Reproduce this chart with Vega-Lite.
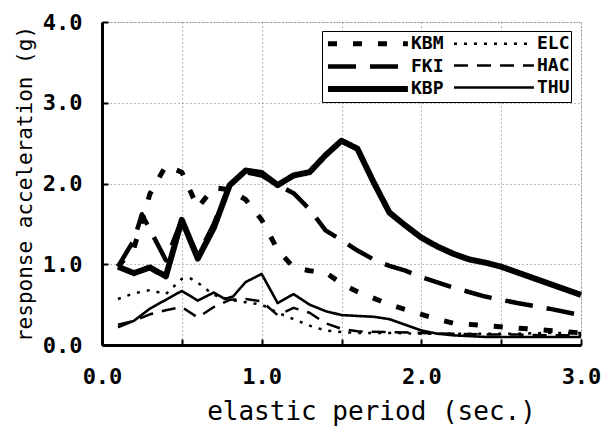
{
  "$schema": "https://vega.github.io/schema/vega-lite/v6.json",
  "width": 479,
  "height": 323,
  "autosize": {"type": "none"},
  "padding": {"left": 102, "top": 22, "right": 21, "bottom": 82},
  "background": "white",
  "data": {
    "values": [
      {"station": "KBM", "period": 0.1, "accel": 0.97},
      {"station": "KBM", "period": 0.2, "accel": 1.2},
      {"station": "KBM", "period": 0.3, "accel": 1.87},
      {"station": "KBM", "period": 0.4, "accel": 2.22},
      {"station": "KBM", "period": 0.5, "accel": 2.14},
      {"station": "KBM", "period": 0.6, "accel": 1.7},
      {"station": "KBM", "period": 0.7, "accel": 1.95},
      {"station": "KBM", "period": 0.8, "accel": 1.92},
      {"station": "KBM", "period": 0.9, "accel": 1.8},
      {"station": "KBM", "period": 1.0, "accel": 1.55},
      {"station": "KBM", "period": 1.1, "accel": 1.18},
      {"station": "KBM", "period": 1.2, "accel": 0.96},
      {"station": "KBM", "period": 1.3, "accel": 0.92},
      {"station": "KBM", "period": 1.4, "accel": 0.9},
      {"station": "KBM", "period": 1.5, "accel": 0.76},
      {"station": "KBM", "period": 1.6, "accel": 0.66},
      {"station": "KBM", "period": 1.7, "accel": 0.58},
      {"station": "KBM", "period": 1.8, "accel": 0.5},
      {"station": "KBM", "period": 1.9, "accel": 0.44},
      {"station": "KBM", "period": 2.0, "accel": 0.38},
      {"station": "KBM", "period": 2.1, "accel": 0.32},
      {"station": "KBM", "period": 2.2, "accel": 0.27},
      {"station": "KBM", "period": 2.4, "accel": 0.24},
      {"station": "KBM", "period": 2.6, "accel": 0.21},
      {"station": "KBM", "period": 2.8, "accel": 0.18},
      {"station": "KBM", "period": 3.0, "accel": 0.15},

      {"station": "ELC", "period": 0.1, "accel": 0.57},
      {"station": "ELC", "period": 0.2, "accel": 0.64},
      {"station": "ELC", "period": 0.3, "accel": 0.68},
      {"station": "ELC", "period": 0.4, "accel": 0.63},
      {"station": "ELC", "period": 0.5, "accel": 0.82},
      {"station": "ELC", "period": 0.55, "accel": 0.83},
      {"station": "ELC", "period": 0.6, "accel": 0.77},
      {"station": "ELC", "period": 0.7, "accel": 0.62},
      {"station": "ELC", "period": 0.8, "accel": 0.56},
      {"station": "ELC", "period": 0.9, "accel": 0.53},
      {"station": "ELC", "period": 1.0, "accel": 0.5},
      {"station": "ELC", "period": 1.1, "accel": 0.4},
      {"station": "ELC", "period": 1.2, "accel": 0.32},
      {"station": "ELC", "period": 1.3, "accel": 0.24},
      {"station": "ELC", "period": 1.4, "accel": 0.18},
      {"station": "ELC", "period": 1.5, "accel": 0.16},
      {"station": "ELC", "period": 1.6, "accel": 0.15},
      {"station": "ELC", "period": 1.8, "accel": 0.15},
      {"station": "ELC", "period": 2.0, "accel": 0.14},
      {"station": "ELC", "period": 2.2, "accel": 0.14},
      {"station": "ELC", "period": 2.4, "accel": 0.14},
      {"station": "ELC", "period": 2.6, "accel": 0.14},
      {"station": "ELC", "period": 2.8, "accel": 0.15},
      {"station": "ELC", "period": 3.0, "accel": 0.15},

      {"station": "FKI", "period": 0.1, "accel": 0.97},
      {"station": "FKI", "period": 0.2, "accel": 1.3},
      {"station": "FKI", "period": 0.25, "accel": 1.62},
      {"station": "FKI", "period": 0.4, "accel": 1.05},
      {"station": "FKI", "period": 0.5, "accel": 1.55},
      {"station": "FKI", "period": 0.6, "accel": 1.1},
      {"station": "FKI", "period": 0.7, "accel": 1.5},
      {"station": "FKI", "period": 0.8, "accel": 1.98},
      {"station": "FKI", "period": 0.9, "accel": 2.14},
      {"station": "FKI", "period": 1.0, "accel": 2.1},
      {"station": "FKI", "period": 1.1, "accel": 1.98},
      {"station": "FKI", "period": 1.2, "accel": 1.88},
      {"station": "FKI", "period": 1.3, "accel": 1.68},
      {"station": "FKI", "period": 1.4, "accel": 1.42},
      {"station": "FKI", "period": 1.5, "accel": 1.3},
      {"station": "FKI", "period": 1.6, "accel": 1.17},
      {"station": "FKI", "period": 1.7, "accel": 1.06},
      {"station": "FKI", "period": 1.8, "accel": 0.98},
      {"station": "FKI", "period": 1.9, "accel": 0.92},
      {"station": "FKI", "period": 2.0, "accel": 0.84},
      {"station": "FKI", "period": 2.2, "accel": 0.71},
      {"station": "FKI", "period": 2.4, "accel": 0.6},
      {"station": "FKI", "period": 2.6, "accel": 0.52},
      {"station": "FKI", "period": 2.8, "accel": 0.45},
      {"station": "FKI", "period": 3.0, "accel": 0.37},

      {"station": "HAC", "period": 0.1, "accel": 0.25},
      {"station": "HAC", "period": 0.2, "accel": 0.3},
      {"station": "HAC", "period": 0.3, "accel": 0.38},
      {"station": "HAC", "period": 0.4, "accel": 0.43},
      {"station": "HAC", "period": 0.5, "accel": 0.47},
      {"station": "HAC", "period": 0.6, "accel": 0.34},
      {"station": "HAC", "period": 0.7, "accel": 0.47},
      {"station": "HAC", "period": 0.8, "accel": 0.56},
      {"station": "HAC", "period": 0.9, "accel": 0.57},
      {"station": "HAC", "period": 1.0, "accel": 0.54},
      {"station": "HAC", "period": 1.1, "accel": 0.37},
      {"station": "HAC", "period": 1.2, "accel": 0.46},
      {"station": "HAC", "period": 1.3, "accel": 0.4},
      {"station": "HAC", "period": 1.4, "accel": 0.27},
      {"station": "HAC", "period": 1.5, "accel": 0.2},
      {"station": "HAC", "period": 1.6, "accel": 0.17},
      {"station": "HAC", "period": 1.8, "accel": 0.16},
      {"station": "HAC", "period": 2.0, "accel": 0.15},
      {"station": "HAC", "period": 2.2, "accel": 0.14},
      {"station": "HAC", "period": 2.4, "accel": 0.13},
      {"station": "HAC", "period": 2.6, "accel": 0.13},
      {"station": "HAC", "period": 2.8, "accel": 0.12},
      {"station": "HAC", "period": 3.0, "accel": 0.12},

      {"station": "KBP", "period": 0.1, "accel": 0.97},
      {"station": "KBP", "period": 0.2, "accel": 0.89},
      {"station": "KBP", "period": 0.3, "accel": 0.96},
      {"station": "KBP", "period": 0.4, "accel": 0.85},
      {"station": "KBP", "period": 0.5, "accel": 1.55},
      {"station": "KBP", "period": 0.6, "accel": 1.07},
      {"station": "KBP", "period": 0.7, "accel": 1.45},
      {"station": "KBP", "period": 0.8, "accel": 1.98},
      {"station": "KBP", "period": 0.9, "accel": 2.16},
      {"station": "KBP", "period": 1.0, "accel": 2.13},
      {"station": "KBP", "period": 1.1, "accel": 1.98},
      {"station": "KBP", "period": 1.2, "accel": 2.1},
      {"station": "KBP", "period": 1.3, "accel": 2.14},
      {"station": "KBP", "period": 1.4, "accel": 2.35},
      {"station": "KBP", "period": 1.5, "accel": 2.53},
      {"station": "KBP", "period": 1.6, "accel": 2.43},
      {"station": "KBP", "period": 1.7, "accel": 2.02},
      {"station": "KBP", "period": 1.8, "accel": 1.64},
      {"station": "KBP", "period": 1.9, "accel": 1.48},
      {"station": "KBP", "period": 2.0, "accel": 1.33},
      {"station": "KBP", "period": 2.1, "accel": 1.22},
      {"station": "KBP", "period": 2.2, "accel": 1.13},
      {"station": "KBP", "period": 2.3, "accel": 1.06},
      {"station": "KBP", "period": 2.4, "accel": 1.02},
      {"station": "KBP", "period": 2.5, "accel": 0.97},
      {"station": "KBP", "period": 2.6, "accel": 0.9},
      {"station": "KBP", "period": 2.7, "accel": 0.83},
      {"station": "KBP", "period": 2.8, "accel": 0.76},
      {"station": "KBP", "period": 2.9, "accel": 0.69},
      {"station": "KBP", "period": 3.0, "accel": 0.62},

      {"station": "THU", "period": 0.1, "accel": 0.22},
      {"station": "THU", "period": 0.2, "accel": 0.3},
      {"station": "THU", "period": 0.3, "accel": 0.45},
      {"station": "THU", "period": 0.4, "accel": 0.56},
      {"station": "THU", "period": 0.5, "accel": 0.67},
      {"station": "THU", "period": 0.6, "accel": 0.55},
      {"station": "THU", "period": 0.7, "accel": 0.65},
      {"station": "THU", "period": 0.77, "accel": 0.57},
      {"station": "THU", "period": 0.82, "accel": 0.6},
      {"station": "THU", "period": 0.9, "accel": 0.78},
      {"station": "THU", "period": 1.0, "accel": 0.88},
      {"station": "THU", "period": 1.1, "accel": 0.52},
      {"station": "THU", "period": 1.2, "accel": 0.63},
      {"station": "THU", "period": 1.3, "accel": 0.5},
      {"station": "THU", "period": 1.4, "accel": 0.42},
      {"station": "THU", "period": 1.5, "accel": 0.37},
      {"station": "THU", "period": 1.6, "accel": 0.36},
      {"station": "THU", "period": 1.7, "accel": 0.35},
      {"station": "THU", "period": 1.8, "accel": 0.32},
      {"station": "THU", "period": 1.9, "accel": 0.25},
      {"station": "THU", "period": 2.0, "accel": 0.18},
      {"station": "THU", "period": 2.1, "accel": 0.14},
      {"station": "THU", "period": 2.2, "accel": 0.12},
      {"station": "THU", "period": 2.4, "accel": 0.1},
      {"station": "THU", "period": 2.6, "accel": 0.1},
      {"station": "THU", "period": 2.8, "accel": 0.1},
      {"station": "THU", "period": 3.0, "accel": 0.1}
    ]
  },
  "mark": {"type": "line", "color": "black", "strokeJoin": "round", "strokeCap": "butt"},
  "encoding": {
    "x": {
      "field": "period",
      "type": "quantitative",
      "scale": {"domain": [0, 3], "nice": false},
      "axis": {
        "values": [0, 0.5, 1, 1.5, 2, 2.5, 3],
        "labelExpr": "datum.value % 1 == 0 ? format(datum.value, '.1f') : ''",
        "grid": true,
        "gridColor": "#777777",
        "gridDash": [1, 3],
        "gridWidth": 1,
        "domainColor": "black",
        "domainWidth": 3,
        "tickSize": -6,
        "tickColor": "black",
        "tickWidth": 2,
        "labelFont": "DejaVu Sans Mono",
        "labelFontSize": 22,
        "labelFontWeight": "bold",
        "labelColor": "black",
        "labelPadding": 27,
        "labelFlush": false,
        "labelOverlap": false,
        "title": "elastic period (sec.)",
        "titleFont": "DejaVu Sans Mono",
        "titleFontSize": 26,
        "titleFontWeight": "normal",
        "titleColor": "black",
        "titleX": 269,
        "titleY": 66,
        "titleAlign": "center",
        "titleBaseline": "middle"
      }
    },
    "y": {
      "field": "accel",
      "type": "quantitative",
      "scale": {"domain": [0, 4], "nice": false},
      "axis": {
        "values": [0, 1, 2, 3, 4],
        "format": ".1f",
        "grid": true,
        "gridColor": "#777777",
        "gridDash": [1, 3],
        "gridWidth": 1,
        "domainColor": "black",
        "domainWidth": 3,
        "tickSize": -6,
        "tickColor": "black",
        "tickWidth": 2,
        "labelFont": "DejaVu Sans Mono",
        "labelFontSize": 22,
        "labelFontWeight": "bold",
        "labelColor": "black",
        "labelPadding": 26,
        "labelFlush": false,
        "labelOverlap": false,
        "title": "response acceleration (g)",
        "titleFont": "DejaVu Sans Mono",
        "titleFontSize": 21,
        "titleFontWeight": "normal",
        "titleColor": "black",
        "titleAngle": -90,
        "titleX": -77,
        "titleY": 161.5,
        "titleAlign": "center",
        "titleBaseline": "middle"
      }
    },
    "strokeDash": {
      "field": "station",
      "type": "nominal",
      "scale": {
        "domain": ["KBM", "FKI", "KBP", "ELC", "HAC", "THU"],
        "range": [[9, 16], [28, 14], [1, 0], [3, 7], [14, 9], [1, 0]]
      },
      "legend": {
        "orient": "none",
        "legendX": 220,
        "legendY": 9,
        "columns": 2,
        "title": null,
        "symbolType": "M-0.78,0H8.1",
        "symbolSize": 324,
        "symbolStrokeColor": "black",
        "labelFont": "DejaVu Sans Mono",
        "labelFontWeight": "bold",
        "labelFontSize": 18,
        "labelColor": "black",
        "labelOffset": 64,
        "fillColor": "white",
        "strokeColor": "black",
        "padding": 1,
        "rowPadding": 1,
        "columnPadding": 4
      }
    },
    "strokeWidth": {
      "field": "station",
      "type": "nominal",
      "scale": {
        "type": "ordinal",
        "domain": ["KBM", "FKI", "KBP", "ELC", "HAC", "THU"],
        "range": [5, 4.5, 6, 2.5, 2.5, 2.6]
      }
    }
  },
  "config": {
    "view": {"stroke": "#777777", "strokeDash": [1, 2], "strokeWidth": 1}
  }
}
